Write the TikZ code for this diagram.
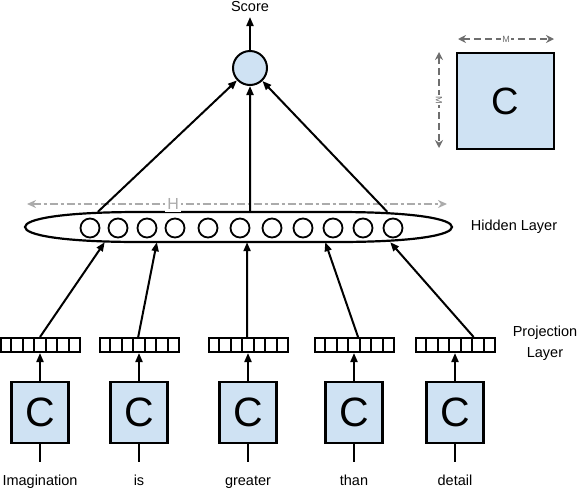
\documentclass[tikz,border=0pt]{standalone}
\usepackage{fontspec}
\setmainfont{Liberation Sans}
\usetikzlibrary{arrows.meta,calc}
\definecolor{boxblue}{HTML}{CFE2F3}
\definecolor{dimgray}{HTML}{6E6E6E}
\definecolor{hgray}{HTML}{ABABAB}
\begin{document}
\begin{tikzpicture}[x=1pt,y=-1pt,
  lbl/.style={font=\fontsize{14.5}{21}\selectfont, inner sep=0pt},
  cbox/.style={draw, line width=2.5pt, fill=boxblue, minimum width=57pt, minimum height=61pt, inner sep=0pt, font=\fontsize{41}{42}\selectfont},
  projbar/.style={draw, line width=2pt, minimum width=79pt, minimum height=14pt, inner sep=0pt},
  unit/.style={circle, draw, line width=1.8pt, minimum size=19pt, inner sep=0pt},
  arr/.style={line width=2pt, -{Triangle[length=9pt,width=7pt]}},
  plainline/.style={line width=2pt},
  dimline/.style={dimgray, line width=2pt, dash pattern=on 7pt off 4pt, {Stealth[length=8pt,width=8pt]}-{Stealth[length=8pt,width=8pt]}},
  dimlbl/.style={fill=white, text=dimgray, inner sep=1.5pt, font=\fontsize{9}{10}\selectfont},
  hline/.style={hgray, line width=2.5pt, dash pattern=on 8pt off 3pt on 3pt off 3pt, {Stealth[length=9pt,width=8pt]}-{Stealth[length=9pt,width=8pt]}},
  hlbl/.style={fill=white, text=hgray, inner sep=2.5pt, font=\fontsize{16}{18}\selectfont}
]
\useasboundingbox (0,0) rectangle (578,488);

% score
\node[circle, draw, fill=boxblue, line width=2pt, minimum size=34pt, inner sep=0pt] (score) at (250,68) {};
\node[lbl] (scoretxt) at (250,7) {Score};
\coordinate (scoretip) at (250,17);
\draw[arr] (score.north) -- (scoretip);

% big C box with dimensions
\node[cbox, minimum width=97pt, minimum height=96pt, font=\fontsize{38}{40}\selectfont] (big) at (505.5,101) {C};
\coordinate (mh1) at (458,39);
\coordinate (mh2) at (554,39);
\draw[dimline] (mh1) -- (mh2) node[midway, dimlbl] (mlblh) {M};
\coordinate (mv1) at (439,52);
\coordinate (mv2) at (439,148);
\draw[dimline] (mv1) -- (mv2) node[midway, dimlbl, rotate=-90] (mlblv) {M};

% hidden layer
\node[minimum width=427pt, minimum height=30pt, inner sep=0pt] (hid) at (238.5,227) {};
\draw[line width=2.2pt] (25,227) .. controls (25,219) and (62,212) .. (140,212) -- (337,212)
  .. controls (415,212) and (452,219) .. (452,227) .. controls (452,235) and (415,242) .. (337,242)
  -- (140,242) .. controls (62,242) and (25,235) .. (25,227) -- cycle;
\foreach \i/\x in {1/90,2/118,3/147,4/175,5/208,6/240,7/272,8/303,9/333,10/363,11/393}
  \node[unit] (h\i) at (\x,228) {};
\node[lbl] (hidtxt) at (514,227) {Hidden Layer};

% H dimension
\coordinate (hl) at (27,204);
\coordinate (hr) at (447,204);
\draw[hline] (hl) -- (hr) node[pos=0.348, hlbl] (hlbl) {H};

% hidden to score
\foreach \f in {0.171,0.527,0.848}
  \draw[arr] ($(hid.north west)!\f!(hid.north east)$) -- (score);

% projection layer, boxes, words
\node[lbl, align=center] (projtxt) at (545,343) {Projection\\Layer};
\foreach \i/\x/\w/\f/\t in {1/40/Imagination/0.5/0.187, 2/139/is/0.49/0.309, 3/248/greater/0.49/0.520, 4/354/than/0.55/0.703, 5/455/detail/0.73/0.855} {
  \node[projbar] (p\i) at (\x,345) {};
  \foreach \k in {1,...,6}
    \draw[line width=2pt] ($(p\i.north west)!\k/7!(p\i.north east)$) -- ($(p\i.south west)!\k/7!(p\i.south east)$);
  \node[cbox] (c\i) at (\x,412.5) {C};
  \node[lbl, anchor=base] (w\i) at (\x,485) {\w};
  \coordinate (e\i) at (\x,462);
  \draw[plainline] (c\i.south) -- (e\i);
  \draw[arr] (c\i.north) -- (c\i.north |- p\i.south);
  \draw[arr] ($(p\i.north west)!\f!(p\i.north east)$) -- ($(hid.south west)!\t!(hid.south east)$);
}
\end{tikzpicture}
\end{document}
